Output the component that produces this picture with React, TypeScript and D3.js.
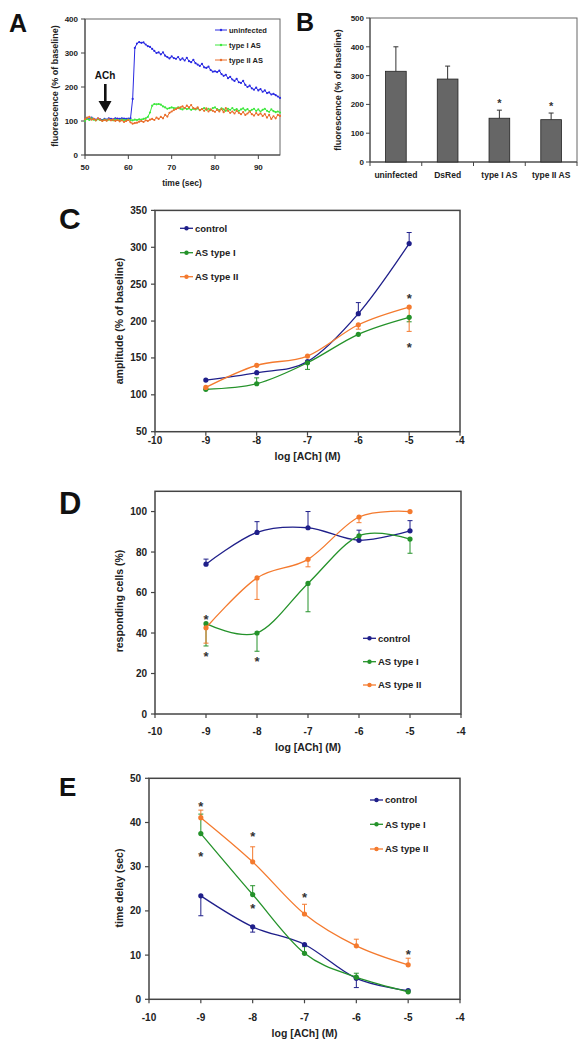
import React from "react";
import * as d3 from "d3";

const FONT = "'Liberation Sans', Arial, Helvetica, sans-serif";

// ---------------- Panel A : time course ----------------
const timeA = d3.range(91).map((i) => 50 + i * 0.5);
const uninfectedA = [
  103, 108, 105, 110, 106, 104, 107, 105, 103, 106, 104, 108, 106, 105, 108, 107, 106, 108, 107, 106, 107,
  108, 165, 315, 328, 332, 330, 331, 325, 320, 318,
  312, 306, 300, 302, 296, 302, 292, 288, 284, 290,
  285, 283, 288, 280, 284, 278, 286, 276, 273, 280,
  270, 266, 262, 268, 258, 256, 260, 250, 245, 246,
  244, 248, 238, 233, 236, 226, 230, 222, 218, 224,
  214, 212, 218, 206, 200, 204, 196, 192, 198, 190,
  194, 186, 190, 182, 184, 178, 180, 176, 172, 168,
];
const typeIA = [
  100, 106, 103, 108, 104, 102, 105, 103, 101, 104, 102, 104, 103, 102, 104, 103, 102, 104, 103, 102, 104,
  103, 102, 104, 103, 105, 104, 106, 108, 112, 125,
  145, 150, 149, 150, 148, 143, 140, 136, 138, 140,
  138, 137, 140, 136, 134, 138, 135, 137, 133, 136,
  134, 137, 132, 135, 138, 133, 136, 132, 138, 140,
  135, 132, 137, 134, 130, 136, 133, 138, 132, 135,
  130, 134, 137, 131, 135, 129, 133, 136, 130, 134,
  128, 133, 136, 130, 127, 134, 129, 126, 128, 125,
];
const typeIIA = [
  105, 110, 112, 104, 106, 102, 108, 104, 100, 103, 101, 105, 102, 104, 100, 103, 99, 102, 97, 100, 103,
  96, 92, 94, 95, 98, 100, 97, 102, 100, 104,
  106, 103, 110, 106, 112, 108, 118, 113, 124, 128,
  132, 135, 138, 140, 143, 138, 145, 140, 147, 138,
  136, 140, 132, 135, 130, 137, 128, 134, 130, 127,
  133, 128, 135, 126, 138, 130, 124, 128, 122, 130,
  124, 120, 126, 118, 122, 128, 120, 116, 123, 118,
  122, 115, 120, 110, 118, 106, 114, 108, 118, 115,
];
const namesA = ["uninfected", "type I AS", "type II AS"];
const colorsA = ["#2a2ae2", "#3ee83e", "#ea6e2c"];
const yTicksA = [0, 100, 200, 300, 400];
const xTicksA = [50, 60, 70, 80, 90];

// ---------------- Panel B : bars ----------------
const categoriesB = ["uninfected", "DsRed", "type I AS", "type II AS"];
const meansB = [315, 288, 152, 147];
const errB = [85, 45, 28, 23];
const starB = [false, false, true, true];
const yTicksB = [0, 100, 200, 300, 400, 500];

// ---------------- Dose-response panels ----------------
const doses = [-9, -8, -7, -6, -5];
const xTicksDose = [-10, -9, -8, -7, -6, -5, -4];
const legendDose = ["control", "AS type I", "AS type II"];
const colorsDose = ["#1f1f8a", "#24922a", "#f47a2e"];

const ampControl = [120, 130, 145, 210, 305];
const ampTypeI = [107.5, 115, 143.5, 182, 205];
const ampTypeII = [110, 140, 152.5, 195, 219];
const ampErrControl = [0, 0, 0, 15, 15];
const ampErrTypeI = [0, 8, -9, 0, -6];
const ampErrTypeII = [0, 0, 0, -6, -33];
const ampStars = [[-5, 234], [-5, 168]];
const yTicksAmp = [50, 100, 150, 200, 250, 300, 350];

const respControl = [74, 89.7, 92, 85.8, 90.5];
const respTypeI = [44.6, 40, 64.5, 88, 86.4];
const respTypeII = [42.6, 67.2, 76.4, 97.3, 100];
const respErrControl = [2.5, 5.3, 8, 5, 5];
const respErrTypeI = [-11, -9, -14, 0, -7];
const respErrTypeII = [-7.6, -10.6, -3.7, -2.8, 0];
const respStars = [[-9, 48], [-9, 30], [-8, 27.2]];
const yTicksResp = [0, 20, 40, 60, 80, 100];

const delayControl = [23.4, 16.4, 12.4, 4.75, 1.95];
const delayTypeI = [37.5, 23.7, 10.4, 5, 1.7];
const delayTypeII = [41.1, 31.1, 19.3, 12.1, 7.8];
const delayErrControl = [-4.5, -1.2, 0, -2.1, 0];
const delayErrTypeI = [4.4, 2, 1.5, 0.9, 0];
const delayErrTypeII = [1.7, 3.4, 2.2, 1.5, 1.5];
const delayStars = [[-9, 44.3], [-9, 33], [-8, 37.6], [-8, 21.3], [-7, 23.8], [-5, 10.8]];
const yTicksDelay = [0, 10, 20, 30, 40, 50];

function PanelA() {
  const x = d3.scaleLinear().domain([50, 95]).range([85, 280]);
  const y = d3.scaleLinear().domain([0, 400]).range([155, 19]);
  const series = [uninfectedA, typeIA, typeIIA];
  const line = d3
    .line<number>()
    .x((_, i) => x(timeA[i]))
    .y((d) => y(d));
  const legY = [30, 45, 60];
  return (
    <g fontFamily={FONT} fontWeight="bold">
      <text x={9} y={32} fontSize={25} fill="#111">A</text>
      <rect x={85} y={19} width={195} height={136} fill="none" stroke="#666" strokeWidth={1} />
      <line x1={85} x2={85} y1={19} y2={155} stroke="#444" />
      <line x1={85} x2={280} y1={155} y2={155} stroke="#444" />
      {yTicksA.map((t) => (
        <g key={t}>
          <line x1={81} x2={85} y1={y(t)} y2={y(t)} stroke="#444" />
          <text x={78} y={y(t) + 3} fontSize={8} textAnchor="end" fill="#222">{t}</text>
        </g>
      ))}
      {xTicksA.map((t) => (
        <g key={t}>
          <line x1={x(t)} x2={x(t)} y1={155} y2={159} stroke="#444" />
          <text x={x(t)} y={170} fontSize={8} textAnchor="middle" fill="#222">{t}</text>
        </g>
      ))}
      <text x={182} y={186} fontSize={8.5} textAnchor="middle" fill="#222">time (sec)</text>
      <text transform={`translate(58,86) rotate(-90)`} fontSize={9} textAnchor="middle" fill="#222">
        fluorescence (% of baseline)
      </text>
      {series.map((s, k) => (
        <g key={k}>
          <path d={line(s) || ""} fill="none" stroke={colorsA[k]} strokeWidth={1} />
          {s.map((v, i) => (
            <circle key={i} cx={x(timeA[i])} cy={y(v)} r={1.1} fill={colorsA[k]} />
          ))}
        </g>
      ))}
      {/* ACh arrow */}
      <text x={105} y={79} fontSize={10} textAnchor="middle" fill="#111">ACh</text>
      <rect x={104} y={84} width={2.6} height={18} fill="#111" />
      <path d="M98.5,101 L111.5,101 L105.3,112.5 Z" fill="#111" />
      {namesA.map((n, k) => (
        <g key={n}>
          <line x1={215} x2={227} y1={legY[k]} y2={legY[k]} stroke={colorsA[k]} strokeWidth={1} />
          <circle cx={221} cy={legY[k]} r={1.2} fill={colorsA[k]} />
          <text x={229} y={legY[k] + 2.6} fontSize={7.5} fill="#222">{n}</text>
        </g>
      ))}
    </g>
  );
}

function PanelB() {
  const x = d3.scaleBand<string>().domain(categoriesB).range([370, 577]).paddingInner(0.6).paddingOuter(0.3);
  const y = d3.scaleLinear().domain([0, 500]).range([162, 18]);
  const step = x.step();
  const edges = d3.range(categoriesB.length + 1).map((i) => 370 + i * (207 / categoriesB.length));
  return (
    <g fontFamily={FONT} fontWeight="bold">
      <text x={296} y={31} fontSize={25} fill="#111">B</text>
      <rect x={370} y={18} width={207} height={144} fill="none" stroke="#666" strokeWidth={1} />
      <line x1={370} x2={370} y1={18} y2={162} stroke="#444" />
      <line x1={370} x2={577} y1={162} y2={162} stroke="#444" />
      {yTicksB.map((t) => (
        <g key={t}>
          <line x1={366} x2={370} y1={y(t)} y2={y(t)} stroke="#444" />
          <text x={364} y={y(t) + 3} fontSize={8} textAnchor="end" fill="#222">{t}</text>
        </g>
      ))}
      {edges.map((e, i) => (
        <line key={i} x1={e} x2={e} y1={162} y2={166} stroke="#444" />
      ))}
      {categoriesB.map((c, i) => {
        const cx = (x(c) as number) + x.bandwidth() / 2;
        return (
          <g key={c}>
            <line x1={cx} x2={cx} y1={y(meansB[i])} y2={y(meansB[i] + errB[i])} stroke="#333" strokeWidth={1} />
            <line x1={cx - 2.5} x2={cx + 2.5} y1={y(meansB[i] + errB[i])} y2={y(meansB[i] + errB[i])} stroke="#333" />
            <rect
              x={x(c)}
              y={y(meansB[i])}
              width={x.bandwidth()}
              height={162 - y(meansB[i])}
              fill="#666"
              stroke="#222"
              strokeWidth={0.8}
            />
            <text x={cx} y={178} fontSize={8.5} textAnchor="middle" fill="#222">{c}</text>
            {starB[i] && (
              <text x={cx} y={y(meansB[i] + errB[i]) - 3} fontSize={11} textAnchor="middle" fill="#333">*</text>
            )}
          </g>
        );
      })}
      <text transform={`translate(341,90) rotate(-90)`} fontSize={9} textAnchor="middle" fill="#222">
        fluorescence (% of baseline)
      </text>
      {step > 0 ? null : null}
    </g>
  );
}

type DoseProps = {
  letter: string;
  letterX: number;
  letterY: number;
  letterSize: number;
  left: number;
  right: number;
  top: number;
  bottom: number;
  yDomain: [number, number];
  yTicks: number[];
  series: number[][];
  errors: number[][];
  stars: number[][];
  legendX: number;
  legendY: number[];
  ylabel: string;
  ylabelX: number;
  ylabelY: number;
  tickBase: number;
  xlabelBase: number;
};

function DosePanel(p: DoseProps) {
  const x = d3.scaleLinear().domain([-10, -4]).range([p.left, p.right]);
  const y = d3.scaleLinear().domain(p.yDomain).range([p.bottom, p.top]);
  const line = d3
    .line<number>()
    .x((_, i) => x(doses[i]))
    .y((d) => y(d))
    .curve(d3.curveCardinal.tension(0));
  return (
    <g fontFamily={FONT} fontWeight="bold">
      <text x={p.letterX} y={p.letterY} fontSize={p.letterSize} fill="#111">{p.letter}</text>
      <rect
        x={p.left}
        y={p.top}
        width={p.right - p.left}
        height={p.bottom - p.top}
        fill="none"
        stroke="#444"
        strokeWidth={1.5}
      />
      {p.yTicks.map((t) => (
        <g key={t}>
          <line x1={p.left - 4} x2={p.left} y1={y(t)} y2={y(t)} stroke="#444" strokeWidth={1.2} />
          <text x={p.left - 8} y={y(t) + 3.5} fontSize={10} textAnchor="end" fill="#222">{t}</text>
        </g>
      ))}
      {xTicksDose.map((t) => (
        <g key={t}>
          <line x1={x(t)} x2={x(t)} y1={p.bottom} y2={p.bottom + 4} stroke="#444" strokeWidth={1.2} />
          <text x={x(t)} y={p.tickBase} fontSize={10} textAnchor="middle" fill="#222">{t}</text>
        </g>
      ))}
      <text x={(p.left + p.right) / 2} y={p.xlabelBase} fontSize={10.5} textAnchor="middle" fill="#222">
        log [ACh] (M)
      </text>
      <text
        transform={`translate(${p.ylabelX},${p.ylabelY}) rotate(-90)`}
        fontSize={10.5}
        textAnchor="middle"
        fill="#222"
      >
        {p.ylabel}
      </text>
      {p.series.map((s, k) => (
        <g key={"e" + k}>
          {s.map((v, i) =>
            p.errors[k][i] !== 0 ? (
              <g key={i}>
                <line
                  x1={x(doses[i])}
                  x2={x(doses[i])}
                  y1={y(v)}
                  y2={y(v + p.errors[k][i])}
                  stroke={colorsDose[k]}
                  strokeWidth={1}
                />
                <line
                  x1={x(doses[i]) - 2.5}
                  x2={x(doses[i]) + 2.5}
                  y1={y(v + p.errors[k][i])}
                  y2={y(v + p.errors[k][i])}
                  stroke={colorsDose[k]}
                  strokeWidth={1}
                />
              </g>
            ) : null
          )}
        </g>
      ))}
      {p.series.map((s, k) => (
        <g key={"s" + k}>
          <path d={line(s) || ""} fill="none" stroke={colorsDose[k]} strokeWidth={1.3} />
          {s.map((v, i) => (
            <circle key={i} cx={x(doses[i])} cy={y(v)} r={2.6} fill={colorsDose[k]} />
          ))}
        </g>
      ))}
      {p.stars.map((s, i) => (
        <text key={i} x={x(s[0])} y={y(s[1]) + 7.5} fontSize={13} textAnchor="middle" fill="#333">*</text>
      ))}
      {legendDose.map((n, k) => (
        <g key={n}>
          <line
            x1={p.legendX}
            x2={p.legendX + 13}
            y1={p.legendY[k]}
            y2={p.legendY[k]}
            stroke={colorsDose[k]}
            strokeWidth={1.3}
          />
          <circle cx={p.legendX + 6.5} cy={p.legendY[k]} r={2.2} fill={colorsDose[k]} />
          <text x={p.legendX + 15} y={p.legendY[k] + 3.3} fontSize={9.5} fill="#222">{n}</text>
        </g>
      ))}
    </g>
  );
}

export default function App() {
  return (
    <svg
      width={588}
      height={1050}
      viewBox="0 0 588 1050"
      style={{ position: "absolute", left: 0, top: 0, background: "#fff" }}
    >
      <rect x={0} y={0} width={588} height={1050} fill="#fff" />
      <PanelA />
      <PanelB />
      <DosePanel
        letter="C"
        letterX={59}
        letterY={229}
        letterSize={30}
        left={155}
        right={460}
        top={210.4}
        bottom={431.7}
        yDomain={[50, 350]}
        yTicks={yTicksAmp}
        series={[ampControl, ampTypeI, ampTypeII]}
        errors={[ampErrControl, ampErrTypeI, ampErrTypeII]}
        stars={ampStars}
        legendX={180}
        legendY={[228.3, 252.7, 276.7]}
        ylabel="amplitude (% of baseline)"
        ylabelX={123}
        ylabelY={321}
        tickBase={443.5}
        xlabelBase={460}
      />
      <DosePanel
        letter="D"
        letterX={59}
        letterY={514}
        letterSize={31}
        left={155}
        right={461}
        top={491.3}
        bottom={714}
        yDomain={[0, 110]}
        yTicks={yTicksResp}
        series={[respControl, respTypeI, respTypeII]}
        errors={[respErrControl, respErrTypeI, respErrTypeII]}
        stars={respStars}
        legendX={363}
        legendY={[638.3, 661.7, 685]}
        ylabel="responding cells (%)"
        ylabelX={123}
        ylabelY={601}
        tickBase={735}
        xlabelBase={750.5}
      />
      <DosePanel
        letter="E"
        letterX={59}
        letterY={796}
        letterSize={26}
        left={149}
        right={460}
        top={778.3}
        bottom={999.3}
        yDomain={[0, 50]}
        yTicks={yTicksDelay}
        series={[delayControl, delayTypeI, delayTypeII]}
        errors={[delayErrControl, delayErrTypeI, delayErrTypeII]}
        stars={delayStars}
        legendX={370}
        legendY={[800, 824.3, 849]}
        ylabel="time delay (sec)"
        ylabelX={123}
        ylabelY={888}
        tickBase={1021}
        xlabelBase={1037}
      />
    </svg>
  );
}
